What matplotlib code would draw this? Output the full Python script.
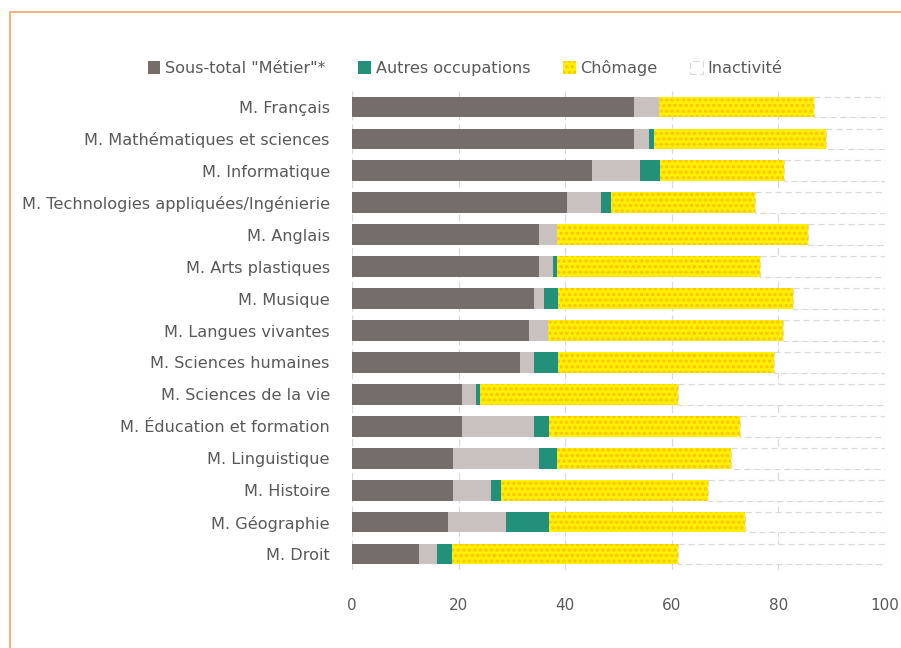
import numpy as np
from matplotlib import pyplot as plt
from matplotlib.lines import Line2D

# parts per master (percent), top to bottom
masters = ['M. Français', 'M. Mathématiques et sciences', 'M. Informatique',
           'M. Technologies appliquées/Ingénierie', 'M. Anglais', 'M. Arts plastiques',
           'M. Musique', 'M. Langues vivantes', 'M. Sciences humaines',
           'M. Sciences de la vie', 'M. Éducation et formation', 'M. Linguistique',
           'M. Histoire', 'M. Géographie', 'M. Droit']
metier = [53.0, 53.0, 45.0, 40.4, 35.0, 35.0, 34.1, 33.3, 31.5, 20.6, 20.6, 18.9, 18.9, 18.0, 12.5]
autres_emplois = [4.6, 2.8, 9.0, 6.4, 3.5, 2.7, 1.9, 3.5, 2.6, 2.7, 13.6, 16.1, 7.2, 10.9, 3.5]
autres_occup = [0.0, 0.9, 3.7, 1.7, 0.0, 0.8, 2.6, 0.0, 4.5, 0.8, 2.7, 3.5, 1.9, 8.0, 2.8]
chomage = [29.1, 32.3, 23.4, 27.1, 47.0, 38.1, 44.1, 44.1, 40.6, 37.0, 35.9, 32.6, 38.7, 36.8, 42.3]
xticks = [0, 20, 40, 60, 80, 100]

metier = np.array(metier)
autres_emplois = np.array(autres_emplois)
autres_occup = np.array(autres_occup)
chomage = np.array(chomage)
inactivite = 100 - (metier + autres_emplois + autres_occup + chomage)

txt = '#595959'
plt.rcParams['hatch.linewidth'] = 1.6
fig = plt.figure(figsize=(9.01, 6.48), dpi=100)
ax = fig.add_axes([352/901, 78/648, 533/901, 479/648])

y = np.arange(len(masters))
h = 0.65
left = np.zeros(len(masters))
b1 = ax.barh(y, metier, h, left=left, color='#756D6A', label='Sous-total "Métier"*')
left += metier
ax.barh(y, autres_emplois, h, left=left, color='#C9C1BF')
left += autres_emplois
b3 = ax.barh(y, autres_occup, h, left=left, color='#23907A', label='Autres occupations')
left += autres_occup
b4 = ax.barh(y, chomage, h, left=left, color='#FFF000', edgecolor='#FFC20E',
             hatch='...', linewidth=0, label='Chômage')
left += chomage
b5 = ax.barh(y, inactivite, h, left=left, color='white', edgecolor='#D9D9D9',
             linewidth=0.9, linestyle=(0, (5, 3)), label='Inactivité')

ax.set_xlim(0, 100)
ax.set_ylim(len(masters) - 0.5, -0.5)
ax.set_xticks(xticks)
ax.set_xticklabels([str(v) for v in xticks])
ax.set_yticks(y)
ax.set_yticklabels(masters)
ax.tick_params(axis='both', length=0, labelcolor=txt)
ax.tick_params(axis='x', pad=20, labelsize=11)
ax.tick_params(axis='y', pad=16, labelsize=11.6)
ax.xaxis.grid(True, color='#D9D9D9', linestyle=(0, (6, 3)), linewidth=0.9)
ax.set_axisbelow(True)
for s in ax.spines.values():
    s.set_visible(False)

fig.legend(handles=[b1, b3, b4, b5], loc='center', bbox_to_anchor=(465/901, 1 - 68/648),
           ncol=4, frameon=False, fontsize=11.6, labelcolor=txt, handlelength=0.8,
           handleheight=0.8, handletextpad=0.3, columnspacing=2.0)

# orange frame around the chart
fig.add_artist(Line2D([10/901, 10/901, 1.0], [0.0, 1 - 12/648, 1 - 12/648],
                      transform=fig.transFigure, color='#F4B183', linewidth=1.5))

fig.savefig('out.png', dpi=100)
